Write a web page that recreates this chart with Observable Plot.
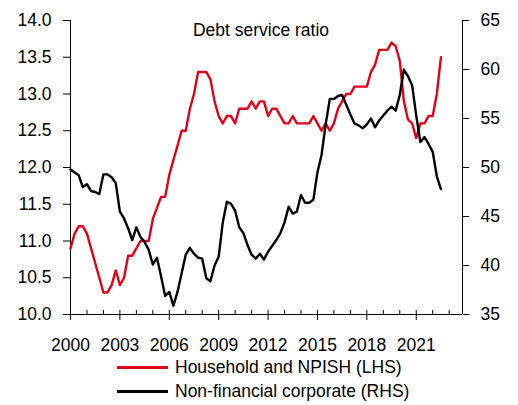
<!DOCTYPE html>
<html>
<head>
<meta charset="utf-8">
<script src="https://cdn.jsdelivr.net/npm/d3@7"></script>
<script src="https://cdn.jsdelivr.net/npm/@observablehq/plot@0.6"></script>
<style>
  html, body { margin: 0; padding: 0; background: #fff; }
  body { width: 518px; height: 405px; overflow: hidden; font-family: "Liberation Sans", Arial, sans-serif; }
  #legend { margin-top: -1px; font-size: 17.5px; color: #000; }
  .row { position: relative; height: 24px; line-height: 24px; }
  .sw { position: absolute; left: 117px; top: 11px; width: 51px; height: 2.5px; }
  .lab { position: absolute; left: 175px; top: 0; white-space: nowrap; }
</style>
</head>
<body>
<div id="chart"></div>
<div id="legend"></div>
<script>
const startYear = 2000; // quarterly data, 2000Q1 ..
const household = [
  10.9, 11.1, 11.2, 11.2, 11.1, 10.9, 10.7, 10.5,
  10.3, 10.3, 10.4, 10.6, 10.4, 10.5, 10.8, 10.8,
  10.9, 11.0, 11.0, 11.0, 11.3, 11.45, 11.6, 11.6,
  11.9, 12.1, 12.3, 12.5, 12.5, 12.8, 13.0, 13.3,
  13.3, 13.3, 13.2, 12.9, 12.7, 12.6, 12.7, 12.7,
  12.6, 12.8, 12.8, 12.8, 12.9, 12.8, 12.9, 12.9,
  12.7, 12.8, 12.8, 12.7, 12.6, 12.6, 12.7, 12.6,
  12.6, 12.6, 12.6, 12.7, 12.6, 12.5, 12.6, 12.5,
  12.6, 12.8, 12.9, 13.0, 13.0, 13.1, 13.1, 13.1,
  13.1, 13.3, 13.4, 13.6, 13.6, 13.6, 13.7, 13.65,
  13.45, 12.9, 12.65, 12.6, 12.4, 12.6, 12.6, 12.7,
  12.7, 13.0, 13.5
];
const corporate = [
  49.8, 49.5, 49.2, 48.0, 48.3, 47.6, 47.5, 47.3,
  49.3, 49.3, 49.0, 48.4, 45.5, 44.8, 43.8, 42.6,
  43.9, 42.9, 42.4, 41.6, 40.1, 40.8, 38.9, 36.9,
  37.3, 35.9, 37.3, 39.2, 41.1, 41.8, 41.2, 40.8,
  40.7, 38.7, 38.4, 40.0, 40.9, 44.4, 46.5, 46.3,
  45.6, 43.9, 43.3, 42.1, 41.1, 40.7, 41.2, 40.6,
  41.4, 42.0, 42.6, 43.3, 44.4, 46.0, 45.3, 45.5,
  47.2, 46.4, 46.4, 46.7, 49.5, 51.3, 54.4, 57.0,
  57.0, 57.3, 57.4, 56.4, 55.4, 54.5, 54.3, 54.0,
  54.4, 55.0, 54.1, 54.8, 55.3, 55.8, 56.2, 55.8,
  57.4, 60.0, 59.3, 58.4, 55.3, 52.6, 53.1, 52.4,
  51.6, 49.1, 47.8
];
const xTickYears = [2000, 2003, 2006, 2009, 2012, 2015, 2018, 2021];
const minorYears = d3.range(2000, 2024);
const leftTicks = [10, 10.5, 11, 11.5, 12, 12.5, 13, 13.5, 14];
const rightTicks = [35, 40, 45, 50, 55, 60, 65];
const title = "Debt service ratio";
const seriesNames = ["Household and NPISH (LHS)", "Non-financial corporate (RHS)"];
const colors = ["#E2001A", "#000000"];

const leftDomain = [10, 14];
const rightDomain = [35, 65];
const xDomain = [2000, 2023.81];

// map right-axis values onto the left scale (dual axis)
const toLeft = d3.scaleLinear().domain(rightDomain).range(leftDomain);

const rows = household.map((v, i) => ({date: startYear + i / 4, hh: v, corp: corporate[i]}));

const chart = Plot.plot({
  width: 518,
  height: 356,
  marginLeft: 70,
  marginRight: 56,
  marginTop: 20,
  marginBottom: 42,
  style: {fontFamily: '"Liberation Sans", Arial, sans-serif', fontSize: "17.5px", color: "#000", background: "#fff"},
  x: {domain: xDomain, label: null},
  y: {domain: leftDomain, label: null},
  marks: [
    Plot.ruleY([leftDomain[0]], {stroke: "#000", strokeWidth: 1}),
    Plot.ruleX(xDomain, {stroke: "#000", strokeWidth: 1}),
    Plot.tickX(minorYears, {x: d => d, stroke: "#000", insetTop: 290}),
    Plot.axisX({ticks: xTickYears, tickSize: 6, tickPadding: 18, tickFormat: d => String(d), label: null}),
    Plot.axisY({anchor: "left", ticks: leftTicks, tickSize: 7, tickPadding: 12, tickFormat: d => d.toFixed(1), label: null}),
    Plot.axisY({anchor: "right", ticks: rightTicks.map(toLeft), tickSize: 6, tickPadding: 12, tickFormat: d => String(Math.round(toLeft.invert(d))), label: null}),
    Plot.line(rows, {x: "date", y: "hh", stroke: colors[0], strokeWidth: 2.4, strokeLinejoin: "round"}),
    Plot.line(rows, {x: "date", y: d => toLeft(d.corp), stroke: colors[1], strokeWidth: 2.4, strokeLinejoin: "round"}),
    Plot.text([title], {frameAnchor: "top", dx: -5.5, dy: 3, fontSize: 17.5, fill: "#000"})
  ]
});
document.getElementById("chart").appendChild(chart);

const legend = document.getElementById("legend");
seriesNames.forEach((name, i) => {
  const row = document.createElement("div");
  row.className = "row";
  row.innerHTML = `<span class="sw" style="background:${colors[i]}"></span><span class="lab">${name}</span>`;
  legend.appendChild(row);
});
</script>
</body>
</html>
